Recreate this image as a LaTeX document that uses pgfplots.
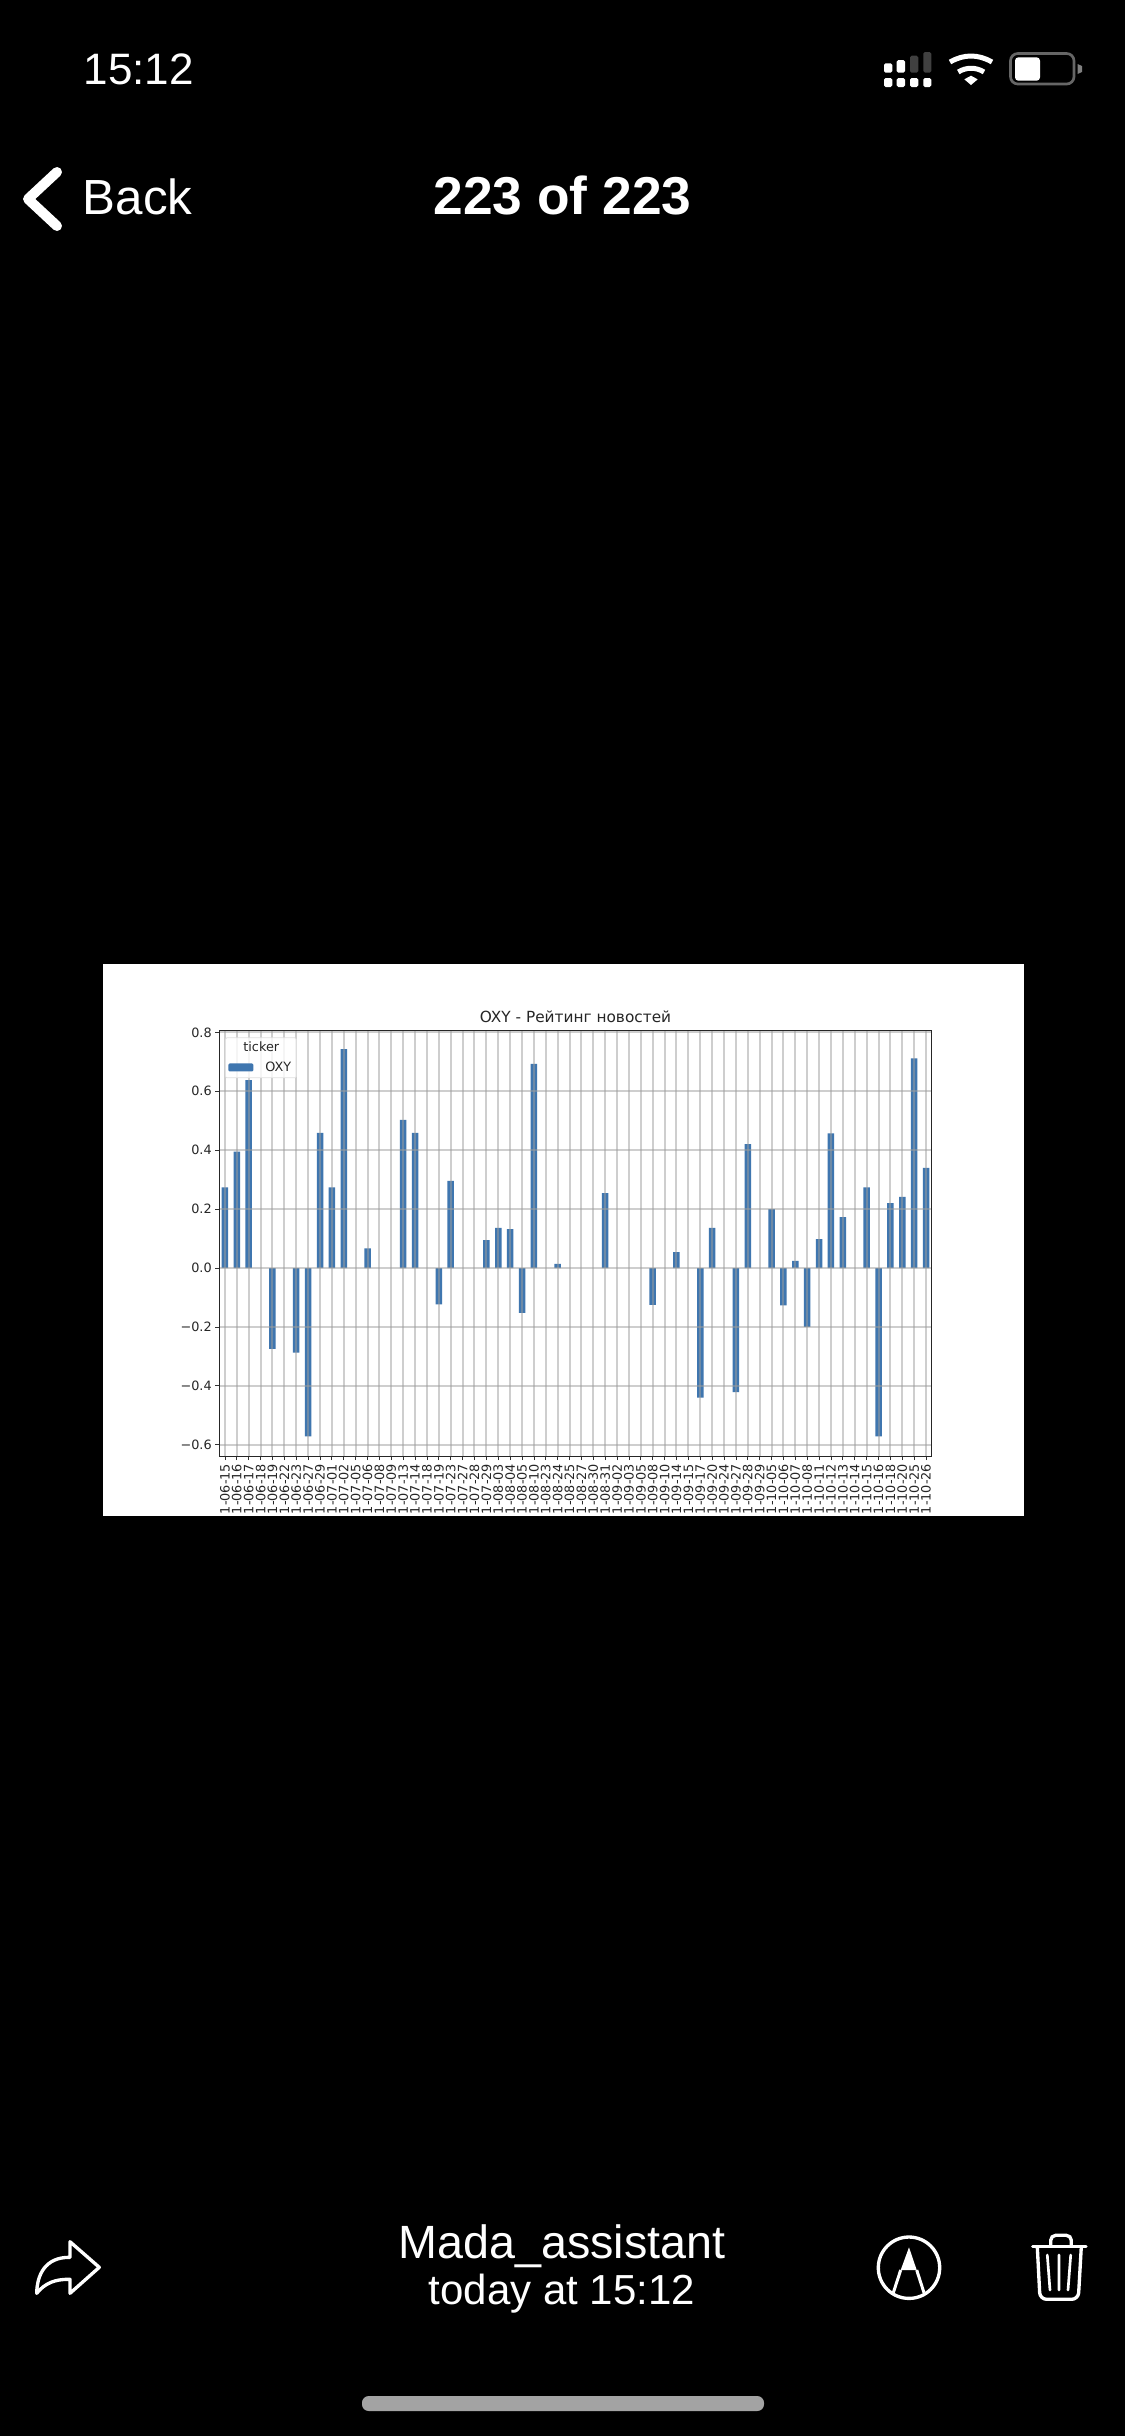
\documentclass[border=0pt]{standalone}
\usepackage{fontspec}
\setmainfont{DejaVu Sans}
\font\uiA="Liberation Sans" at 13.2pt
\font\uiB="Liberation Sans" at 14.8pt
\font\uiC="Liberation Sans/B" at 16pt
\font\uiD="Liberation Sans" at 14pt
\font\uiE="Liberation Sans" at 12.6pt
\usepackage{pgfplots}
\pgfplotsset{compat=1.18}
\usepackage{pgfplotstable}
\definecolor{bar}{HTML}{3F76AF}
\definecolor{gridc}{HTML}{9E9E9E}
\pgfplotstableread{
i v
0 0.274
1 0.395
2 0.638
4 -0.274
6 -0.287
7 -0.571
8 0.459
9 0.274
10 0.743
12 0.067
15 0.503
16 0.459
18 -0.123
19 0.296
22 0.095
23 0.136
24 0.132
25 -0.152
26 0.693
28 0.014
32 0.254
36 -0.125
38 0.054
40 -0.44
41 0.136
43 -0.421
44 0.421
46 0.2
47 -0.127
48 0.024
49 -0.2
50 0.098
51 0.457
52 0.173
54 0.274
55 -0.571
56 0.22
57 0.242
58 0.712
59 0.34
}\ratings
\begin{document}
\begin{tikzpicture}[x=0.3pt,y=-0.3pt]
\fill[black] (0,0) rectangle (1125,2436);
\fill[white] (103,964) rectangle (1024,1516);
\begin{axis}[
  at={(65.7pt,-436.8pt)}, anchor=south west,
  scale only axis, width=213.9pt, height=127.8pt,
  xmin=-0.5, xmax=59.5, ymin=-0.638, ymax=0.808,
  axis on top,
  ybar, bar width=1.95pt, bar shift=0pt,
  xtick={0,...,59},
  xticklabels={1-06-15,1-06-16,1-06-17,1-06-18,1-06-19,1-06-22,1-06-23,1-06-27,1-06-29,1-07-01,1-07-02,1-07-05,1-07-06,1-07-08,1-07-09,1-07-13,1-07-14,1-07-18,1-07-19,1-07-23,1-07-27,1-07-28,1-07-29,1-08-03,1-08-04,1-08-05,1-08-10,1-08-23,1-08-24,1-08-25,1-08-27,1-08-30,1-08-31,1-09-02,1-09-03,1-09-05,1-09-08,1-09-10,1-09-14,1-09-15,1-09-17,1-09-20,1-09-24,1-09-27,1-09-28,1-09-29,1-10-05,1-10-06,1-10-07,1-10-08,1-10-11,1-10-12,1-10-13,1-10-14,1-10-15,1-10-16,1-10-18,1-10-20,1-10-25,1-10-26},
  x tick label style={rotate=90, anchor=east, font=\fontsize{3.85pt}{3.85pt}\selectfont, inner sep=0.5pt, xshift=-0.5pt, text=black!85},
  ytick={-0.6,-0.4,-0.2,0,0.2,0.4,0.6,0.8},
  yticklabels={−0.6,−0.4,−0.2,0.0,0.2,0.4,0.6,0.8},
  y tick label style={font=\fontsize{3.85pt}{3.85pt}\selectfont, inner sep=0.8pt, text=black!85},
  tick align=outside, tick pos=left, major tick length=1.2pt,
  tick style={line width=0.24pt, color=black!80},
  axis line style={line width=0.3pt, color=black!85},
  grid=major, grid style={line width=0.6pt, color=gridc, opacity=0.5},
  title={OXY - Рейтинг новостей},
  title style={font=\fontsize{4.6pt}{4.6pt}\selectfont, text=black!85, yshift=-7.2pt},
  legend style={at={(axis description cs:0.0085,0.9825)}, anchor=north west,
    draw=black!12, line width=0.2pt, rounded corners=0.4pt, fill=white, fill opacity=0.8, text opacity=1,
    font=\fontsize{3.85pt}{3.85pt}\selectfont, inner sep=0.9pt, row sep=1.4pt, text=black!85,
    nodes={inner ysep=0.3pt, inner xsep=0.6pt, text height=3pt, text depth=0.8pt}},
  legend cell align=left,
]
\addlegendimage{empty legend}
\addlegendentry{\hspace{-3.6pt}ticker}
\addplot[fill=bar, draw=none,
  area legend,
  legend image code/.code={\fill[bar,fill opacity=1] (0pt,-1.2pt) rectangle (7.5pt,1.2pt);}]
  table[x=i,y=v] {\ratings};
\addlegendentry{\hspace{3pt}OXY\hspace{1pt}}
\end{axis}
% phone chrome
\node[white,anchor=base west,inner sep=0pt,font=\uiA] at (83,84) {15:12};
\node[white,anchor=base west,inner sep=0pt,font=\uiB] at (82,214) {Back};
\node[white,anchor=base,inner sep=0pt,font=\uiC] at (562.5,214) {223 of 223};
\node[white,anchor=base,inner sep=0pt,font=\uiD] at (562,2258) {Mada\_assistant};
\node[white,anchor=base,inner sep=0pt,font=\uiE] at (562,2304) {today at 15:12};
\draw[white,line width=3pt,line cap=round,line join=round] (57,172)--(28,199)--(57,226);
\fill[gray!72,rounded corners=2pt] (362,2396) rectangle (764,2411);
% signal
\foreach \x/\w in {884/8.3,896.7/8.3,910/8.3,923.3/8}{\fill[white,rounded corners=0.5pt] (\x,78) rectangle ++(\w,9);}
\fill[white,rounded corners=0.5pt] (884,63.3) rectangle (892.3,72.7);
\fill[white,rounded corners=0.5pt] (896.7,60) rectangle (905,72.7);
\fill[black!75,rounded corners=0.5pt] (910,55.7) rectangle (918.3,72.7);
\fill[black!75,rounded corners=0.5pt] (923.3,52) rectangle (931.3,72.7);
% wifi
\draw[white,line width=1.5pt] (950,62) .. controls (964,54) and (978,54) .. (992,62);
\draw[white,line width=1.5pt] (958.3,72) .. controls (966,67) and (976,67) .. (984,72);
\fill[white] (971,85)--(964.3,79.3)--(971,75.7)--(977.7,79.3)--cycle;
% battery
\draw[black!60,line width=0.8pt,rounded corners=2.2pt] (1010.5,53.5) rectangle (1074,84);
\fill[white,rounded corners=1pt] (1015,57.3) rectangle (1040,80.7);
\fill[black!50] (1077.5,64) -- (1082,66) -- (1082,72) -- (1077.5,74) -- cycle;
% share
\draw[white,line width=1pt,line join=round] (99.3,2267.3) -- (70,2241.7) -- (70,2257.3)
  .. controls (45,2257) and (37,2275) .. (36.7,2293.3)
  .. controls (45,2283) and (55,2279) .. (70,2279.3) -- (70,2293.3) -- cycle;
% markup
\draw[white,line width=1pt] (909,2267.7) circle [radius=30.7];
\fill[white,line join=round] (909,2247.3) -- (916.7,2270) -- (900.7,2270) -- cycle;
\draw[white,line width=0.9pt] (900.7,2270) -- (893.3,2292.7) (916.7,2270) -- (924,2292.7);
% trash
\draw[white,line width=1pt,line cap=round] (1032.7,2246.7) -- (1086,2246.7);
\draw[white,line width=1pt,rounded corners=1.5pt] (1050.7,2246.7) -- (1050.7,2235.3) -- (1071.3,2235.3) -- (1071.3,2246.7);
\draw[white,line width=1pt,rounded corners=2pt] (1037.3,2246.7) -- (1040,2299.3) -- (1078.3,2299.3) -- (1081.3,2246.7);
\draw[white,line width=0.8pt,line cap=round] (1047.3,2255) -- (1050,2290) (1059,2255) -- (1059,2290) (1070.7,2255) -- (1068,2290);
\end{tikzpicture}
\end{document}
